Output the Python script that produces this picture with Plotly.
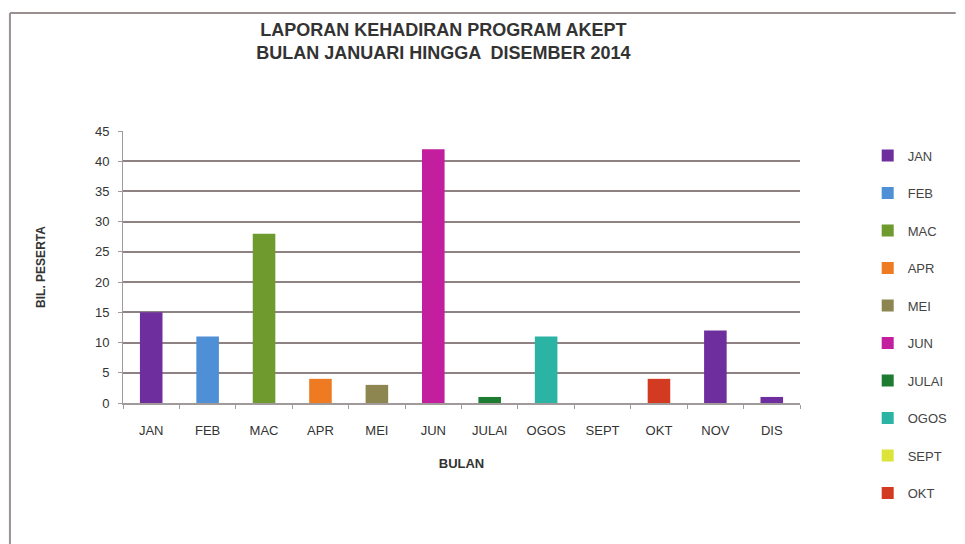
import plotly.graph_objects as go

# data
bulan = ["JAN", "FEB", "MAC", "APR", "MEI", "JUN", "JULAI", "OGOS", "SEPT", "OKT", "NOV", "DIS"]
peserta = [15, 11, 28, 4, 3, 42, 1, 11, 0, 4, 12, 1]
warna = ["#6E2E9E", "#4F8FD6", "#6F9A2E", "#EE7A22", "#8E8650", "#C21E9E",
         "#1E7B32", "#2BB3A3", "#DCE43A", "#D33A22", "#6E2E9E", "#6E2E9E"]
dalam_legend = 10  # legend in the picture stops at OKT

fig = go.Figure()
for i, (b, v, c) in enumerate(zip(bulan, peserta, warna)):
    fig.add_trace(go.Bar(
        x=[b], y=[v], name=b, marker_color=c, width=0.4,
        marker_line_width=0, legendgroup=b,
        showlegend=i < dalam_legend,
    ))

font_utama = "Liberation Sans"
# page body adds 8px margin, so figure is drawn 8px smaller
fig.update_layout(
    width=957, height=536,
    barmode="overlay",
    plot_bgcolor="white", paper_bgcolor="white",
    margin=dict(l=115, r=155, t=123, b=141),
    font=dict(family=font_utama, size=13, color="#333333"),
    title=dict(
        text="<b>LAPORAN KEHADIRAN PROGRAM AKEPT<br>BULAN JANUARI HINGGA  DISEMBER 2014</b>",
        x=0.455, xanchor="center", y=0.948, yanchor="top",
        font=dict(size=18, color="#333333"),
    ),
    legend=dict(x=1.1, y=0.965, xanchor="left", yanchor="top",
                tracegroupgap=17.6, font=dict(size=13, color="#444444"),
                itemwidth=30, maxheight=420),
    xaxis=dict(
        title=dict(text="<b>BULAN</b>", font=dict(size=13), standoff=22),
        showline=True, linecolor="#A09A9A", linewidth=2,
        ticks="outside", tickson="boundaries", ticklen=4, tickcolor="#A09A9A",
        ticklabelstandoff=14,
        showgrid=False,
    ),
    yaxis=dict(
        title=dict(text="<b>BIL. PESERTA</b>", font=dict(size=12), standoff=46),
        range=[0, 45], dtick=5,
        showgrid=True, gridcolor="#8E8282", gridwidth=2,
        showline=True, linecolor="#A09A9A", linewidth=1,
        zeroline=False, ticks="outside", ticklen=4, tickcolor="#A09A9A",
        ticklabelstandoff=6,
    ),
    shapes=[
        dict(type="line", xref="paper", yref="paper", x0=-0.167, x1=1.23, y0=1.434, y1=1.434,
             line=dict(color="#9A9090", width=2)),
        dict(type="line", xref="paper", yref="paper", x0=-0.167, x1=-0.167, y0=1.434, y1=-0.52,
             line=dict(color="#9A9090", width=2)),
    ],
)

fig.write_html("out.html")
